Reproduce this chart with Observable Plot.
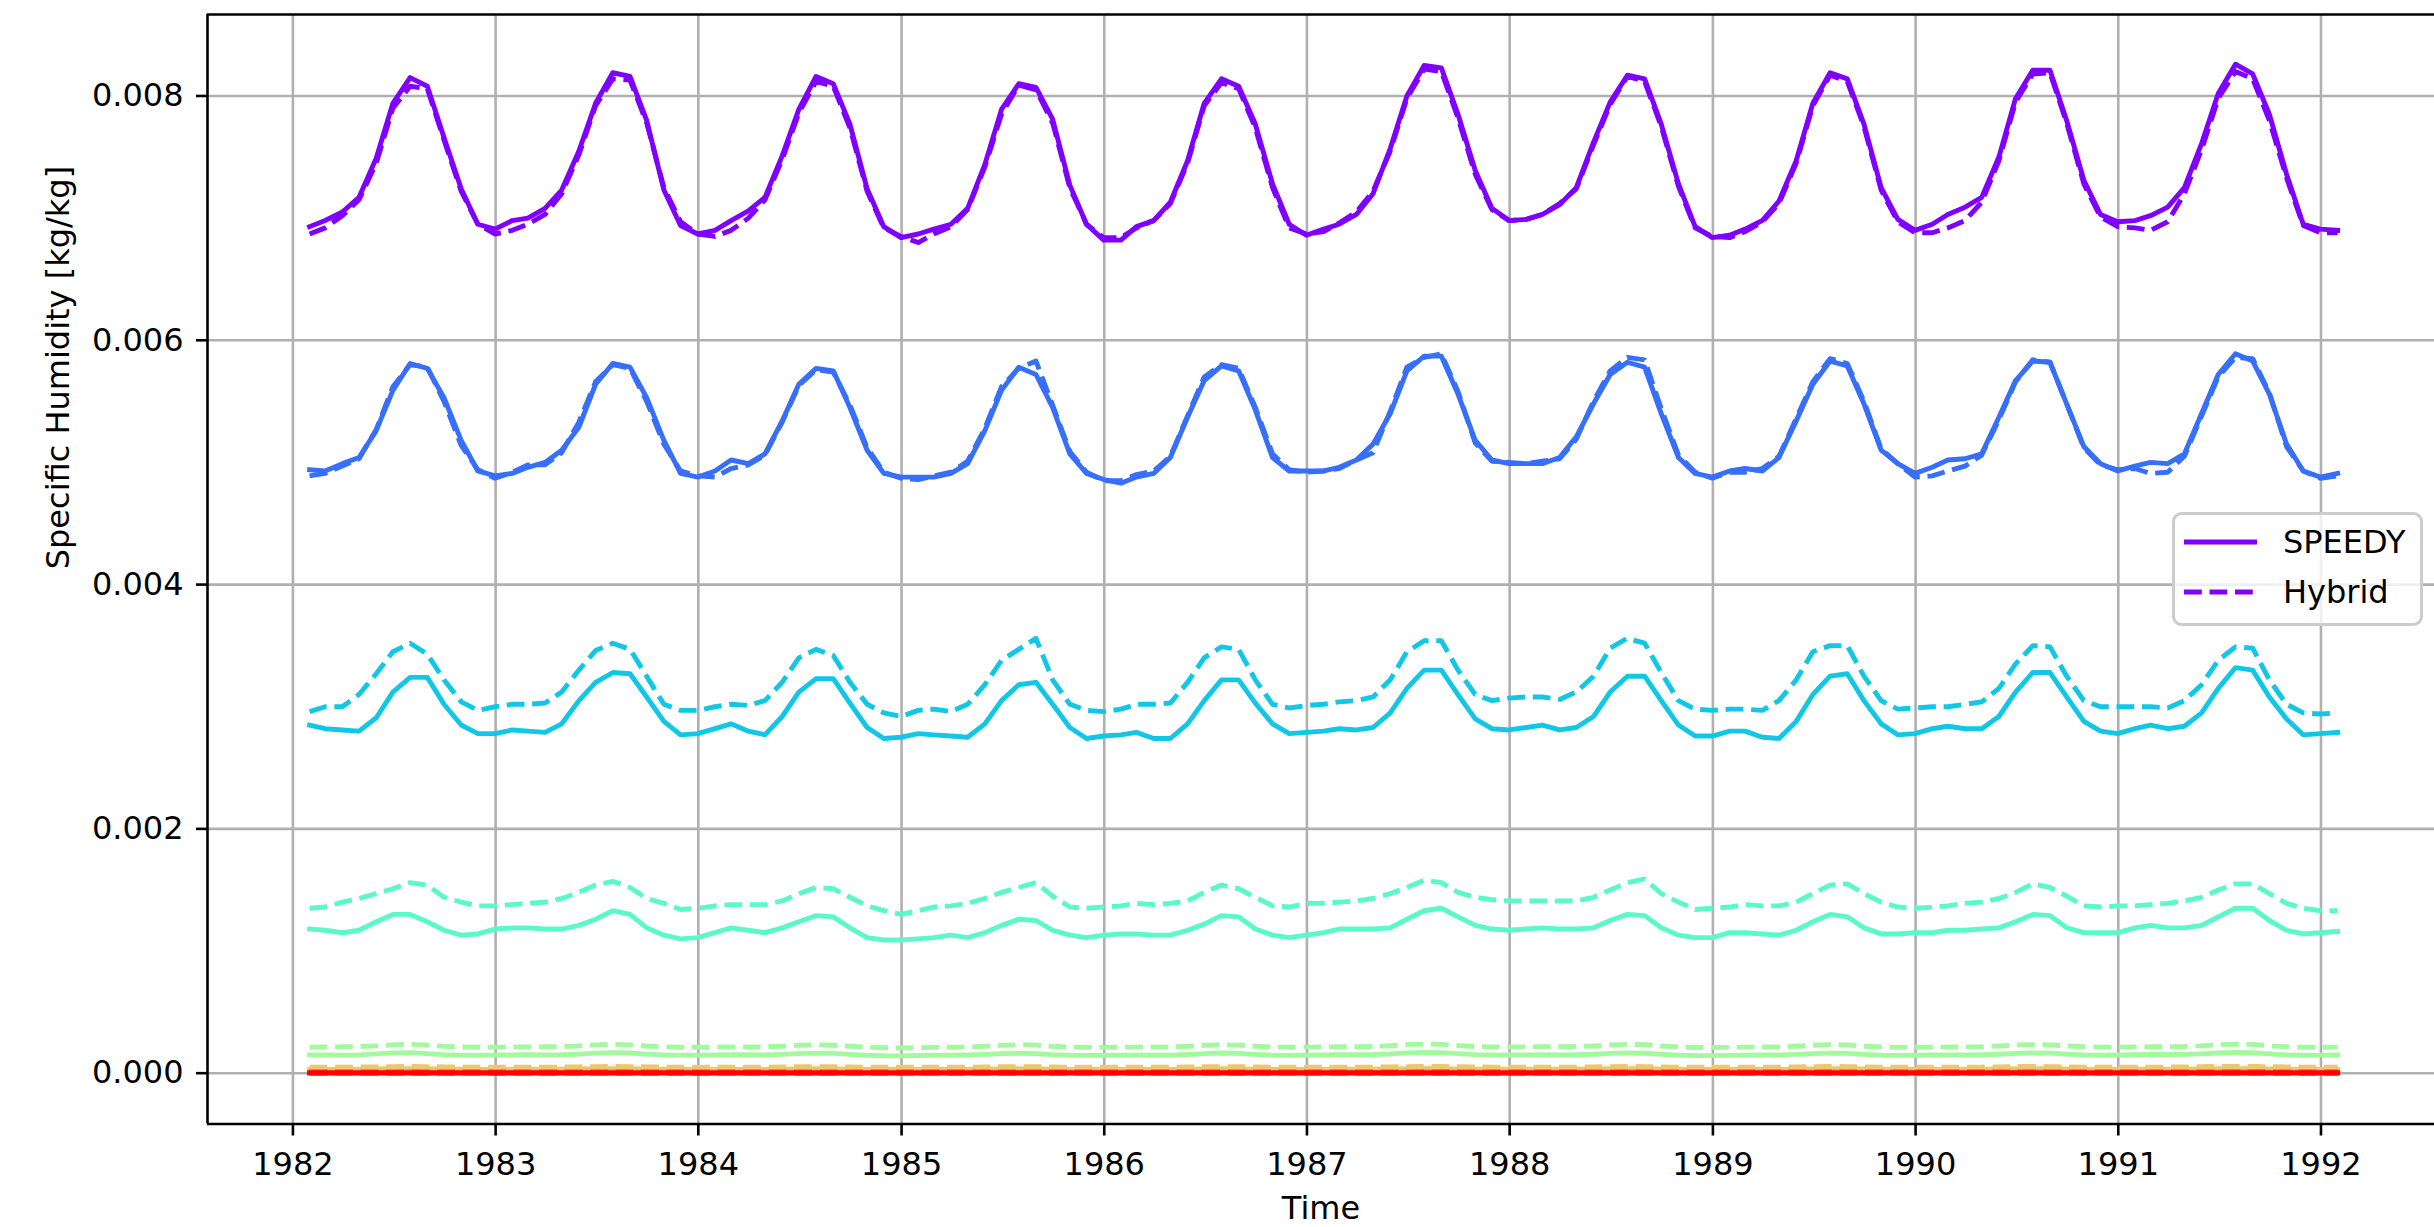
<!DOCTYPE html>
<html><head><meta charset="utf-8">
<script src="https://cdn.jsdelivr.net/npm/d3@7"></script>
<script src="https://cdn.jsdelivr.net/npm/@observablehq/plot@0.6"></script>
<style>
html,body{margin:0;padding:0;background:#fff;}
#wrap{position:relative;width:2434px;height:1227px;overflow:hidden;}
#legend{position:absolute;left:2172px;top:512px;}
</style></head><body><div id="wrap"></div>
<script>
// Monthly mean specific humidity, in g/kg (converted to kg/kg below), Jan 1982 .. Jan 1992
// level colours (matplotlib "rainbow", 8 sigma levels)
const levelColors = ["#8000ff","#376ff9","#12c7e6","#5bf9c7","#a4f99f","#edc76f","#ff6f39","#ff0000"];
const legendLabels = ["SPEEDY", "Hybrid"];
const yTickValues = [0, 0.002, 0.004, 0.006, 0.008];
const xTickYears = [1982,1983,1984,1985,1986,1987,1988,1989,1990,1991,1992];

const speedyL0 = [
6.93,6.98,7.05,7.17,7.49,7.94,8.15,8.08,7.66,7.24,6.95,6.91,
6.98,7.00,7.08,7.23,7.55,7.94,8.19,8.16,7.80,7.23,6.94,6.87,
6.90,6.98,7.06,7.17,7.51,7.89,8.16,8.10,7.77,7.24,6.93,6.84,
6.87,6.91,6.95,7.08,7.44,7.89,8.10,8.07,7.81,7.27,6.95,6.82,
6.82,6.93,6.98,7.13,7.47,7.94,8.14,8.08,7.77,7.28,6.95,6.86,
6.91,6.95,7.03,7.20,7.57,8.00,8.25,8.23,7.85,7.39,7.08,6.98,
6.99,7.03,7.11,7.25,7.62,7.95,8.17,8.14,7.77,7.28,6.93,6.84,
6.86,6.91,6.98,7.14,7.47,7.94,8.19,8.14,7.77,7.25,6.99,6.90,
6.95,7.03,7.09,7.17,7.50,7.98,8.21,8.21,7.80,7.31,7.03,6.97,
6.98,7.02,7.09,7.25,7.61,8.02,8.26,8.18,7.85,7.36,6.95,6.91,
6.90];
const hybridL0 = [
6.87,6.92,7.02,7.15,7.45,7.90,8.08,8.06,7.64,7.22,6.95,6.87,
6.90,6.95,7.03,7.20,7.52,7.92,8.14,8.13,7.78,7.25,6.97,6.87,
6.85,6.90,7.00,7.15,7.48,7.86,8.12,8.08,7.74,7.22,6.92,6.85,
6.80,6.87,6.93,7.07,7.42,7.85,8.09,8.05,7.78,7.25,6.95,6.84,
6.84,6.92,6.98,7.12,7.45,7.92,8.11,8.06,7.74,7.25,6.92,6.87,
6.89,6.96,7.05,7.22,7.55,7.98,8.22,8.20,7.82,7.36,7.07,6.98,
6.99,7.03,7.12,7.24,7.60,7.93,8.16,8.12,7.75,7.26,6.92,6.85,
6.84,6.89,6.97,7.12,7.45,7.92,8.17,8.12,7.75,7.23,6.97,6.88,
6.88,6.92,6.98,7.13,7.47,7.95,8.18,8.19,7.78,7.28,7.01,6.93,
6.92,6.90,6.97,7.20,7.56,7.98,8.20,8.14,7.80,7.33,6.94,6.88,
6.88];
const speedyL1 = [
4.94,4.93,4.99,5.04,5.26,5.59,5.81,5.77,5.53,5.18,4.93,4.89,
4.91,4.96,5.00,5.10,5.29,5.64,5.81,5.78,5.53,5.18,4.91,4.88,
4.93,5.02,4.99,5.07,5.34,5.64,5.77,5.75,5.45,5.10,4.91,4.88,
4.88,4.88,4.91,4.99,5.26,5.59,5.78,5.72,5.45,5.07,4.91,4.86,
4.83,4.88,4.91,5.04,5.37,5.67,5.79,5.75,5.43,5.04,4.93,4.93,
4.93,4.96,5.02,5.15,5.40,5.75,5.87,5.87,5.56,5.18,5.02,4.99,
4.99,4.99,5.04,5.21,5.48,5.72,5.82,5.78,5.40,5.04,4.91,4.88,
4.93,4.95,4.93,5.04,5.34,5.64,5.83,5.79,5.48,5.10,4.99,4.91,
4.96,5.02,5.03,5.07,5.37,5.67,5.83,5.82,5.48,5.13,4.99,4.93,
4.97,5.00,4.99,5.07,5.40,5.72,5.89,5.83,5.56,5.15,4.93,4.88,
4.91];
const hybridL1 = [
4.89,4.91,4.97,5.03,5.27,5.62,5.80,5.78,5.50,5.14,4.94,4.87,
4.92,4.98,4.98,5.08,5.33,5.66,5.80,5.77,5.50,5.15,4.93,4.89,
4.88,4.95,4.98,5.06,5.33,5.63,5.76,5.74,5.47,5.12,4.92,4.87,
4.86,4.89,4.92,5.01,5.28,5.62,5.77,5.83,5.47,5.09,4.92,4.85,
4.85,4.90,4.93,5.05,5.38,5.70,5.80,5.77,5.45,5.07,4.94,4.92,
4.93,4.95,5.02,5.08,5.42,5.78,5.86,5.89,5.58,5.16,5.01,5.00,
4.99,5.01,5.03,5.19,5.50,5.75,5.86,5.84,5.44,5.06,4.92,4.87,
4.92,4.92,4.95,5.05,5.36,5.66,5.85,5.81,5.50,5.11,4.99,4.88,
4.89,4.93,4.97,5.06,5.35,5.66,5.84,5.82,5.48,5.12,4.98,4.94,
4.95,4.91,4.92,5.05,5.38,5.70,5.86,5.85,5.57,5.13,4.93,4.87,
4.89];
const speedyL2 = [
2.85,2.82,2.81,2.80,2.91,3.12,3.24,3.24,3.02,2.85,2.78,2.78,
2.81,2.80,2.79,2.86,3.05,3.20,3.28,3.27,3.08,2.88,2.77,2.78,
2.82,2.86,2.80,2.77,2.92,3.12,3.23,3.23,3.03,2.83,2.74,2.75,
2.78,2.77,2.76,2.75,2.86,3.05,3.18,3.20,3.02,2.83,2.74,2.76,
2.77,2.79,2.74,2.74,2.86,3.05,3.22,3.22,3.03,2.86,2.78,2.79,
2.80,2.82,2.81,2.83,2.95,3.15,3.30,3.30,3.10,2.90,2.82,2.81,
2.83,2.85,2.81,2.83,2.92,3.12,3.25,3.25,3.05,2.85,2.76,2.76,
2.80,2.80,2.75,2.74,2.88,3.10,3.25,3.27,3.05,2.86,2.77,2.78,
2.82,2.84,2.82,2.82,2.92,3.12,3.28,3.28,3.08,2.88,2.80,2.78,
2.82,2.85,2.82,2.84,2.95,3.15,3.32,3.30,3.08,2.90,2.77,2.78,
2.79];
const hybridL2 = [
2.96,3.00,3.00,3.10,3.27,3.45,3.52,3.43,3.22,3.04,2.97,3.00,
3.02,3.02,3.03,3.12,3.30,3.46,3.52,3.47,3.25,3.02,2.97,2.97,
3.00,3.02,3.01,3.05,3.20,3.40,3.47,3.42,3.20,3.02,2.95,2.92,
2.97,2.98,2.96,3.02,3.18,3.38,3.47,3.56,3.22,3.02,2.97,2.96,
2.98,3.02,3.02,3.03,3.20,3.40,3.49,3.47,3.22,3.02,2.99,3.01,
3.02,3.04,3.05,3.08,3.22,3.45,3.54,3.54,3.30,3.10,3.05,3.07,
3.08,3.08,3.06,3.12,3.25,3.48,3.56,3.52,3.28,3.05,2.98,2.97,
2.98,2.98,2.97,3.05,3.22,3.45,3.50,3.50,3.25,3.05,2.98,2.99,
3.00,3.00,3.02,3.04,3.15,3.35,3.50,3.49,3.25,3.05,3.00,3.00,
3.00,3.00,2.99,3.05,3.18,3.38,3.49,3.48,3.22,3.02,2.95,2.94,
2.95];
const speedyL3 = [
1.18,1.17,1.15,1.17,1.24,1.30,1.30,1.24,1.17,1.13,1.14,1.18,
1.19,1.19,1.18,1.18,1.21,1.26,1.33,1.30,1.19,1.13,1.10,1.11,
1.15,1.19,1.17,1.15,1.19,1.24,1.29,1.28,1.19,1.11,1.09,1.09,
1.10,1.11,1.13,1.11,1.15,1.21,1.26,1.25,1.17,1.13,1.11,1.13,
1.14,1.14,1.13,1.13,1.17,1.22,1.29,1.28,1.18,1.13,1.11,1.13,
1.15,1.18,1.18,1.18,1.19,1.26,1.33,1.35,1.28,1.21,1.18,1.17,
1.18,1.19,1.18,1.18,1.19,1.25,1.30,1.29,1.19,1.13,1.11,1.11,
1.15,1.15,1.14,1.13,1.17,1.24,1.30,1.28,1.19,1.14,1.14,1.15,
1.15,1.17,1.17,1.18,1.19,1.24,1.30,1.29,1.19,1.15,1.15,1.15,
1.19,1.21,1.19,1.19,1.21,1.28,1.35,1.35,1.25,1.17,1.14,1.15,
1.16];
const hybridL3 = [
1.35,1.36,1.40,1.43,1.47,1.51,1.56,1.54,1.44,1.40,1.37,1.37,
1.38,1.39,1.40,1.43,1.48,1.54,1.57,1.52,1.43,1.39,1.34,1.35,
1.37,1.38,1.38,1.38,1.41,1.47,1.52,1.51,1.44,1.37,1.33,1.30,
1.33,1.36,1.37,1.39,1.43,1.48,1.52,1.56,1.45,1.36,1.35,1.36,
1.37,1.39,1.38,1.39,1.41,1.48,1.54,1.51,1.44,1.37,1.36,1.39,
1.39,1.40,1.41,1.43,1.47,1.52,1.58,1.56,1.48,1.44,1.42,1.41,
1.41,1.41,1.41,1.41,1.44,1.50,1.56,1.59,1.47,1.40,1.34,1.35,
1.36,1.38,1.37,1.37,1.40,1.47,1.54,1.55,1.47,1.40,1.36,1.35,
1.36,1.37,1.39,1.40,1.43,1.48,1.55,1.52,1.45,1.37,1.36,1.37,
1.37,1.38,1.39,1.41,1.44,1.50,1.55,1.55,1.47,1.39,1.35,1.33,
1.33];
const speedyL4 = [
.150,.150,.148,.150,.158,.166,.168,.160,.152,.148,.147,.148,
.150,.152,.150,.151,.156,.164,.168,.165,.156,.150,.148,.148,
.150,.152,.151,.150,.154,.160,.164,.162,.154,.147,.143,.142,
.145,.147,.148,.150,.154,.160,.163,.160,.152,.147,.146,.147,
.148,.148,.147,.148,.153,.160,.165,.162,.154,.148,.146,.148,
.150,.152,.152,.153,.158,.166,.170,.168,.160,.152,.150,.150,
.150,.151,.150,.151,.155,.162,.166,.163,.155,.148,.144,.144,
.146,.148,.149,.150,.154,.160,.164,.162,.154,.148,.146,.147,
.149,.150,.150,.151,.155,.162,.166,.164,.156,.150,.148,.149,
.151,.153,.153,.154,.158,.165,.170,.167,.158,.150,.147,.148,
.149];
const hybridL4 = [
.212,.214,.216,.218,.224,.232,.236,.230,.220,.214,.212,.213,
.214,.215,.216,.218,.224,.232,.236,.232,.222,.215,.212,.212,
.213,.214,.214,.215,.220,.228,.232,.229,.220,.212,.208,.207,
.209,.211,.212,.214,.220,.228,.233,.230,.220,.213,.211,.211,
.212,.213,.213,.214,.220,.228,.233,.230,.221,.214,.212,.213,
.215,.216,.217,.219,.225,.234,.238,.236,.226,.218,.215,.215,
.215,.216,.216,.218,.223,.231,.236,.233,.223,.214,.210,.210,
.211,.213,.214,.215,.221,.229,.234,.231,.221,.214,.211,.212,
.213,.214,.215,.216,.222,.230,.234,.232,.223,.216,.213,.213,
.215,.216,.217,.218,.224,.233,.238,.235,.225,.216,.212,.212,
.213];
const speedyL5 = [
.031,.031,.031,.032,.034,.036,.037,.036,.034,.032,.031,.031,
.031,.032,.032,.032,.034,.036,.037,.036,.034,.032,.031,.031,
.031,.031,.031,.031,.033,.035,.036,.035,.033,.031,.030,.030,
.030,.030,.031,.031,.033,.035,.036,.035,.033,.031,.030,.030,
.030,.031,.031,.031,.033,.035,.036,.035,.033,.031,.030,.031,
.031,.032,.032,.032,.034,.036,.038,.037,.035,.033,.032,.032,
.032,.032,.032,.032,.034,.036,.037,.036,.034,.032,.031,.031,
.031,.031,.031,.031,.033,.035,.037,.036,.034,.032,.031,.031,
.031,.031,.032,.032,.034,.036,.037,.036,.034,.032,.031,.031,
.032,.032,.032,.033,.035,.037,.038,.037,.035,.033,.031,.031,
.031];
const hybridL5 = [
.048,.049,.049,.050,.052,.054,.055,.054,.052,.050,.049,.049,
.049,.049,.050,.050,.052,.054,.055,.054,.052,.050,.049,.049,
.049,.049,.049,.049,.051,.053,.054,.053,.051,.049,.048,.048,
.048,.048,.049,.049,.051,.053,.054,.053,.051,.049,.048,.048,
.048,.049,.049,.049,.051,.053,.054,.053,.051,.049,.048,.049,
.049,.050,.050,.050,.052,.054,.056,.055,.053,.051,.050,.050,
.050,.050,.050,.050,.052,.054,.055,.054,.052,.050,.049,.049,
.049,.049,.049,.049,.051,.053,.055,.054,.052,.050,.049,.049,
.049,.049,.050,.050,.052,.054,.055,.054,.052,.050,.049,.049,
.050,.050,.050,.051,.053,.055,.056,.055,.053,.051,.049,.049,
.049];
const speedyL6 = [
.008,.008,.008,.008,.009,.009,.010,.009,.009,.008,.008,.008,
.008,.008,.008,.008,.009,.009,.010,.009,.009,.008,.008,.008,
.008,.008,.008,.008,.008,.009,.009,.009,.008,.008,.008,.008,
.008,.008,.008,.008,.008,.009,.009,.009,.008,.008,.008,.008,
.008,.008,.008,.008,.008,.009,.009,.009,.008,.008,.008,.008,
.008,.008,.008,.008,.009,.009,.010,.010,.009,.008,.008,.008,
.008,.008,.008,.008,.009,.009,.010,.009,.009,.008,.008,.008,
.008,.008,.008,.008,.008,.009,.010,.009,.009,.008,.008,.008,
.008,.008,.008,.008,.009,.009,.010,.009,.009,.008,.008,.008,
.008,.008,.008,.008,.009,.009,.010,.010,.009,.008,.008,.008,
.008];
const hybridL6 = [
.012,.012,.012,.012,.013,.013,.014,.013,.013,.012,.012,.012,
.012,.012,.012,.012,.013,.013,.014,.013,.013,.012,.012,.012,
.012,.012,.012,.012,.012,.013,.013,.013,.012,.012,.012,.012,
.012,.012,.012,.012,.012,.013,.013,.013,.012,.012,.012,.012,
.012,.012,.012,.012,.012,.013,.013,.013,.012,.012,.012,.012,
.012,.012,.012,.012,.013,.013,.014,.014,.013,.012,.012,.012,
.012,.012,.012,.012,.013,.013,.014,.013,.013,.012,.012,.012,
.012,.012,.012,.012,.012,.013,.014,.013,.013,.012,.012,.012,
.012,.012,.012,.012,.013,.013,.014,.013,.013,.012,.012,.012,
.012,.012,.012,.012,.013,.013,.014,.014,.013,.012,.012,.012,
.012];
const speedyL7 = [
.001,.001,.001,.001,.001,.001,.001,.001,.001,.001,.001,.001,
.001,.001,.001,.001,.001,.001,.001,.001,.001,.001,.001,.001,
.001,.001,.001,.001,.001,.001,.001,.001,.001,.001,.001,.001,
.001,.001,.001,.001,.001,.001,.001,.001,.001,.001,.001,.001,
.001,.001,.001,.001,.001,.001,.001,.001,.001,.001,.001,.001,
.001,.001,.001,.001,.001,.001,.001,.001,.001,.001,.001,.001,
.001,.001,.001,.001,.001,.001,.001,.001,.001,.001,.001,.001,
.001,.001,.001,.001,.001,.001,.001,.001,.001,.001,.001,.001,
.001,.001,.001,.001,.001,.001,.001,.001,.001,.001,.001,.001,
.001,.001,.001,.001,.001,.001,.001,.001,.001,.001,.001,.001,
.001];
const hybridL7 = [
.002,.002,.002,.002,.002,.002,.002,.002,.002,.002,.002,.002,
.002,.002,.002,.002,.002,.002,.002,.002,.002,.002,.002,.002,
.002,.002,.002,.002,.002,.002,.002,.002,.002,.002,.002,.002,
.002,.002,.002,.002,.002,.002,.002,.002,.002,.002,.002,.002,
.002,.002,.002,.002,.002,.002,.002,.002,.002,.002,.002,.002,
.002,.002,.002,.002,.002,.002,.002,.002,.002,.002,.002,.002,
.002,.002,.002,.002,.002,.002,.002,.002,.002,.002,.002,.002,
.002,.002,.002,.002,.002,.002,.002,.002,.002,.002,.002,.002,
.002,.002,.002,.002,.002,.002,.002,.002,.002,.002,.002,.002,
.002,.002,.002,.002,.002,.002,.002,.002,.002,.002,.002,.002,
.002];

const speedy = [speedyL0,speedyL1,speedyL2,speedyL3,speedyL4,speedyL5,speedyL6,speedyL7];
const hybrid = [hybridL0,hybridL1,hybridL2,hybridL3,hybridL4,hybridL5,hybridL6,hybridL7];

// monthly time stamps: month-end dates, Jan 1982 .. Jan 1992
const dates = d3.range(121).map(k => new Date(Date.UTC(1982, k + 1, 0)));
const toRows = (arr, level, model) => arr.map((v, k) => ({date: dates[k], q: v / 1000, level, model}));

const xDomain = [new Date(Date.UTC(1981, 6, 31, 4)), new Date(Date.UTC(1992, 6, 23, 10))];
const yDomain = [-0.000416, 0.008667];
const xTicks = xTickYears.map(y => new Date(Date.UTC(y, 0, 1)));

const lineW = 4.9;
const marks = [
  Plot.gridX({ticks: xTicks, stroke: "#b0b0b0", strokeOpacity: 1, strokeWidth: 2.6}),
  Plot.gridY({ticks: yTickValues, stroke: "#b0b0b0", strokeOpacity: 1, strokeWidth: 2.6}),
];
for (let i = 0; i < 8; i++) {
  marks.push(Plot.line(toRows(speedy[i], i, "SPEEDY"), {x: "date", y: "q", stroke: levelColors[i], strokeWidth: lineW, strokeLinejoin: "round", strokeLinecap: "square"}));
  marks.push(Plot.line(toRows(hybrid[i], i, "Hybrid"), {x: "date", y: "q", stroke: levelColors[i], strokeWidth: lineW, strokeDasharray: "17.8,7.7", strokeLinejoin: "round", strokeLinecap: "butt"}));
}
marks.push(
  Plot.ruleX([xDomain[0]], {stroke: "black", strokeWidth: 2.6}),
  Plot.ruleY(yDomain, {stroke: "black", strokeWidth: 2.6}),
  Plot.axisY({ticks: yTickValues, tickFormat: d3.format(".3f"), tickSize: 11, tickPadding: 13, fontSize: 32, label: null, stroke: "black", strokeWidth: 2.6, fill: "black"}),
  Plot.axisX({ticks: xTicks, tickFormat: d3.utcFormat("%Y"), tickSize: 12, tickPadding: 16, fontSize: 32, label: null, stroke: "black", strokeWidth: 2.6, fill: "black"}),
  Plot.text(["Time"], {frameAnchor: "bottom", dy: 85, fontSize: 32, lineAnchor: "middle", fill: "black"}),
  Plot.text(["Specific Humidity [kg/kg]"], {frameAnchor: "left", dx: -149, rotate: -90, fontSize: 32, lineAnchor: "middle", fill: "black"})
);

const chart = Plot.plot({
  width: 2434, height: 1227,
  marginLeft: 207, marginRight: 0, marginTop: 14, marginBottom: 103.5,
  x: {type: "utc", domain: xDomain},
  y: {domain: yDomain},
  style: {fontFamily: "'DejaVu Sans', sans-serif", fontSize: "32px", background: "white", color: "black"},
  marks
});
const wrap = document.getElementById("wrap");
wrap.appendChild(chart);

// legend (inside the axes, right side)
const ns = "http://www.w3.org/2000/svg";
const lg = d3.create("svg").attr("id", "legend").attr("width", 252).attr("height", 116)
  .style("font-family", "'DejaVu Sans', sans-serif").style("font-size", "32px");
lg.append("rect").attr("x", 1.5).attr("y", 1.5).attr("width", 248).attr("height", 111).attr("rx", 8)
  .attr("fill", "white").attr("fill-opacity", 0.8).attr("stroke", "#cccccc").attr("stroke-width", 3);
legendLabels.forEach((lab, i) => {
  const yy = 30 + i * 50;
  lg.append("line").attr("x1", 12).attr("x2", 85).attr("y1", yy).attr("y2", yy)
    .attr("stroke", levelColors[0]).attr("stroke-width", lineW)
    .attr("stroke-dasharray", i === 1 ? "17.8,7.7" : null);
  lg.append("text").attr("x", 111).attr("y", yy).attr("dy", "0.35em").attr("fill", "black").text(lab);
});
wrap.appendChild(lg.node());
</script></body></html>
